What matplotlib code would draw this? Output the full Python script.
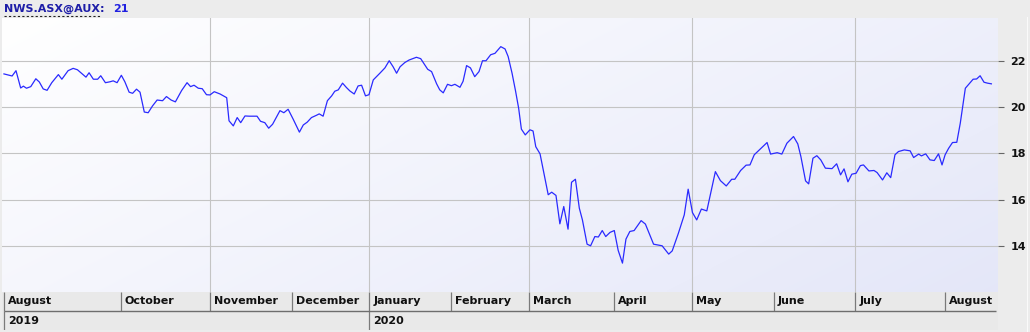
"""
NWS.ASX@AUX close, Aug 2019 - Aug 2020, redrawn in matplotlib.
x axis counts trading days from the first close (20 Aug 2019).
"""
import numpy as np
from matplotlib import pyplot as plt
from matplotlib.lines import Line2D

# Vertices of the price line: trading-day index and close
day = [0.0, 2.1, 3.1, 4.3, 5.0, 5.8, 6.9, 8.2, 9.1, 10.1, 11.1, 12.3, 14.0, 14.9,
       16.5, 17.8, 18.9, 21.1, 21.9, 23.0, 24.1, 24.9, 26.1, 27.3, 28.1, 29.1,
       30.2, 31.1, 32.2, 33.1, 34.1, 35.0, 36.1, 37.1, 38.2, 39.4, 40.8, 41.8,
       43.0, 44.1, 45.7, 47.1, 48.0, 48.9, 50.0, 51.0, 52.1, 53.0, 54.1, 55.6,
       57.3, 57.9, 59.0, 60.0, 60.9, 62.0, 63.1, 65.1, 66.0, 67.1, 68.1, 69.1,
       71.0, 72.0, 73.1, 74.4, 76.0, 77.0, 78.0, 79.1, 80.4, 81.1, 82.1, 83.2,
       84.3, 85.1, 86.0, 87.1, 88.1, 89.0, 90.1, 91.1, 92.0, 93.0, 93.9, 95.0,
       96.7, 98.0, 99.1, 100.1, 101.0, 101.9, 103.1, 104.2, 106.1, 107.2, 109.0,
       110.0, 111.3, 112.1, 113.0, 114.1, 115.1, 116.0, 117.3, 118.1, 119.0,
       120.0, 121.1, 122.2, 123.1, 124.0, 125.2, 126.3, 127.8, 128.9, 129.7,
       130.7, 131.6, 132.4, 133.1, 134.1, 135.3, 136.1, 136.8, 137.9, 138.9,
       140.0, 140.9, 142.0, 143.0, 144.0, 145.1, 146.0, 147.0, 148.0, 148.8,
       150.0, 150.9, 152.0, 152.9, 153.9, 154.8, 155.9, 157.0, 158.0, 159.1,
       160.0, 161.0, 162.1, 163.9, 165.0, 167.1, 168.4, 169.3, 171.0, 171.9,
       173.5, 175.0, 176.0, 177.1, 178.2, 179.4, 180.8, 183.0, 184.3, 185.8,
       187.2, 188.0, 189.5, 190.9, 191.9, 193.0, 196.3, 197.2, 198.9, 200.1,
       201.4, 203.1, 204.2, 205.0, 206.2, 207.0, 208.1, 209.1, 210.1, 211.3,
       213.0, 214.2, 215.2, 216.1, 217.1, 218.1, 219.2, 220.3, 221.1, 222.5,
       223.8, 224.6, 226.0, 227.1, 228.1, 229.2, 230.1, 231.6, 233.1, 234.0,
       235.3, 236.0, 237.1, 238.2, 239.3, 240.4, 241.3, 242.1, 243.0, 244.0,
       245.1, 246.0, 247.3, 249.3, 250.2, 251.1, 252.1, 253.0, 254.0]
close = [21.44, 21.35, 21.58, 20.83, 20.91, 20.82, 20.89, 21.23, 21.09, 20.79,
         20.73, 21.06, 21.41, 21.21, 21.58, 21.68, 21.62, 21.30, 21.49, 21.21,
         21.21, 21.36, 21.06, 21.10, 21.14, 21.06, 21.38, 21.10, 20.65, 20.60,
         20.78, 20.65, 19.79, 19.76, 20.05, 20.31, 20.28, 20.46, 20.31, 20.23,
         20.72, 21.06, 20.89, 20.95, 20.82, 20.80, 20.54, 20.53, 20.67, 20.57,
         20.41, 19.41, 19.19, 19.55, 19.33, 19.62, 19.61, 19.61, 19.39, 19.33,
         19.09, 19.26, 19.85, 19.76, 19.91, 19.48, 18.92, 19.23, 19.35, 19.55,
         19.65, 19.71, 19.61, 20.28, 20.49, 20.69, 20.75, 21.04, 20.85, 20.70,
         20.57, 20.92, 20.95, 20.49, 20.54, 21.18, 21.47, 21.70, 22.01, 21.75,
         21.47, 21.75, 21.93, 22.04, 22.16, 22.10, 21.64, 21.54, 21.01, 20.75,
         20.62, 20.99, 20.93, 20.99, 20.86, 21.12, 21.80, 21.70, 21.32, 21.54,
         22.01, 22.01, 22.27, 22.33, 22.62, 22.52, 22.19, 21.47, 20.70, 19.95,
         19.05, 18.80, 19.02, 18.97, 18.29, 17.98, 17.14, 16.21, 16.32, 16.18,
         14.95, 15.70, 14.72, 16.75, 16.88, 15.63, 15.12, 14.07, 14.00, 14.40,
         14.38, 14.66, 14.40, 14.58, 14.66, 13.80, 13.25, 14.29, 14.62, 14.66,
         15.09, 14.94, 14.07, 14.03, 14.00, 13.64, 13.78, 14.55, 15.34, 16.45,
         15.44, 15.12, 15.59, 15.51, 17.21, 16.82, 16.59, 16.88, 16.88, 17.26,
         17.49, 17.50, 17.94, 18.47, 17.97, 18.03, 17.97, 18.44, 18.73, 18.41,
         17.86, 16.81, 16.68, 17.79, 17.90, 17.72, 17.36, 17.34, 17.55, 17.07,
         17.33, 16.77, 17.10, 17.14, 17.47, 17.50, 17.24, 17.26, 17.17, 16.85,
         17.16, 16.95, 17.94, 18.08, 18.15, 18.11, 17.82, 17.97, 17.89, 17.98,
         17.72, 17.69, 17.98, 17.50, 17.94, 18.22, 18.47, 18.48, 19.31, 20.82,
         21.21, 21.22, 21.36, 21.08, 21.04, 21.01]

# Time scale bands (trading-day index where each month / year starts)
months = ["August", "October", "November", "December", "January", "February",
          "March", "April", "May", "June", "July", "August"]
month_start = [0, 30, 53, 74, 94, 115, 135, 157, 177, 198, 219, 242]
years = ["2019", "2020"]
year_start = [0, 94]
grid_start = [53, 94, 135, 177, 219]
yticks = [14, 16, 18, 20, 22]

symbol = "NWS.ASX@AUX:"
last_value = "21"

W, H = 1030, 332


def box(left, top, right, bottom):
    # pixel box -> figure fraction rect
    return [left / W, 1 - bottom / H, (right - left) / W, (bottom - top) / H]


if __name__ == "__main__":

    fig = plt.figure(figsize=(W / 100, H / 100), dpi=100, facecolor="#ececec")

    xlim = (-0.5, 255.7)
    ylim = (12.0, 23.86)

    ax = fig.add_axes(box(2, 18, 998, 292))

    # soft diagonal gradient behind the plot
    gx, gy = np.meshgrid(np.linspace(0, 1, 300), np.linspace(0, 1, 100))
    t = (0.65 * gx + 0.35 * gy)[..., None]
    c0 = np.array([1.0, 1.0, 1.0])
    c1 = np.array([0.895, 0.905, 0.975])
    ax.imshow(c0 + (c1 - c0) * t, extent=(*xlim, *ylim), origin="upper",
              aspect="auto", interpolation="bilinear", zorder=0)

    for v in yticks:
        ax.axhline(v, color="#c4c4c4", lw=0.8, zorder=1)
    for g in grid_start:
        ax.axvline(g, color="#c4c4c4", lw=0.8, zorder=1)

    ax.plot(day, close, color="#2a2aff", lw=0.9, zorder=3)

    ax.set_xlim(xlim)
    ax.set_ylim(ylim)
    ax.set_xticks([])
    ax.yaxis.tick_right()
    ax.set_yticks(yticks)
    ax.set_yticklabels([str(v) for v in yticks], fontweight="bold")
    ax.tick_params(axis="y", length=4, width=0.8, color="#666666", pad=5,
                   labelsize=8, labelcolor="#111111")
    for s in ax.spines.values():
        s.set_visible(False)

    # month / year bands under the plot
    band = fig.add_axes(box(2, 292, 998, 330), facecolor="#e9e9e9")
    band.set_xlim(xlim)
    band.set_ylim(0, 2)
    band.set_xticks([])
    band.set_yticks([])
    for s in band.spines.values():
        s.set_visible(False)

    band.vlines(month_start, 1, 2, color="#7a7a7a", lw=0.9)
    band.vlines(year_start, 0, 1, color="#7a7a7a", lw=0.9)
    band.hlines(1, month_start[0], xlim[1] - 0.5, color="#6e6e6e", lw=1.0)
    for name, m in zip(months, month_start):
        band.text(m + 1.0, 1.5, name, ha="left", va="center", fontsize=8,
                  fontweight="bold", color="#111111")
    for name, y in zip(years, year_start):
        band.text(y + 1.0, 0.5, name, ha="left", va="center", fontsize=8,
                  fontweight="bold", color="#111111")

    # header
    fig.text(4 / W, 1 - 8.5 / H, symbol, ha="left", va="center", fontsize=8,
             fontweight="bold", color="#1e1ea8")
    fig.text(113 / W, 1 - 8.5 / H, last_value, ha="left", va="center",
             fontsize=8, fontweight="bold", color="#2020e0")
    fig.add_artist(Line2D([4 / W, 100 / W], [1 - 16 / H] * 2,
                          transform=fig.transFigure, color="#222222",
                          lw=0.8, ls=(0, (2, 2))))
    fig.add_artist(Line2D([1027 / W] * 2, [0, 1 - 17 / H],
                          transform=fig.transFigure, color="#fafafa", lw=0.8))

    plt.savefig("out.png", dpi=100, facecolor=fig.get_facecolor())
    plt.close()
